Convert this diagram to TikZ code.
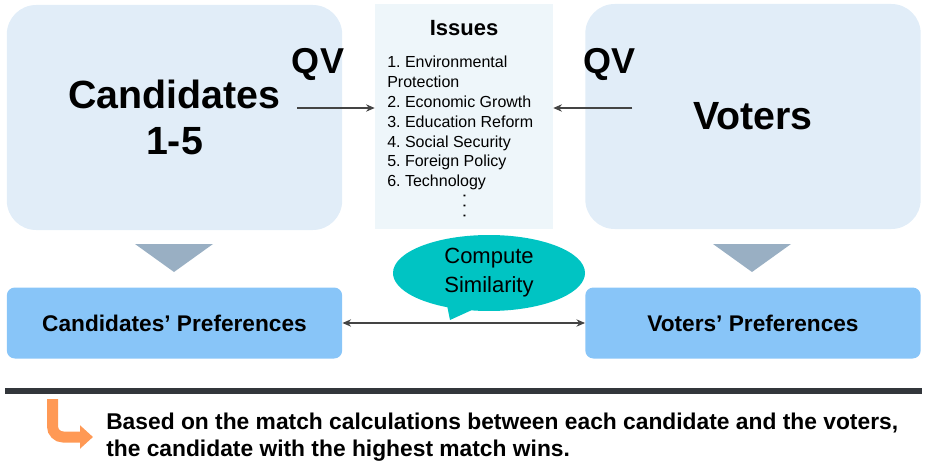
\documentclass[tikz,border=0pt]{standalone}
\usepackage{fontspec}
\setmainfont{Liberation Sans}
\usepackage{tikz}
\usetikzlibrary{arrows.meta,positioning,shapes.callouts,calc}
\usepackage{xcolor}
\definecolor{topblue}{RGB}{225,237,248}
\definecolor{issueblue}{RGB}{238,246,250}
\definecolor{prefblue}{RGB}{136,197,248}
\definecolor{trigray}{RGB}{153,175,195}
\definecolor{bubbleteal}{RGB}{0,196,195}
\definecolor{arrgray}{RGB}{68,68,68}
\definecolor{rulegray}{RGB}{50,54,59}
\definecolor{turnorange}{RGB}{255,153,85}
\frenchspacing

\begin{document}
\begin{tikzpicture}[
    x=0.75pt, y=-0.75pt, >={Stealth[length=6.5pt,width=5.5pt]},
    topbox/.style={fill=topblue, rounded corners=22pt, minimum width=251.5pt, minimum height=168.75pt, align=center, inner sep=0pt},
    bigtext/.style={font=\fontsize{29.5}{35}\selectfont\bfseries},
    issuebox/.style={fill=issueblue, minimum width=133.5pt, minimum height=168.75pt, inner sep=0pt},
    prefbox/.style={fill=prefblue, rounded corners=6pt, minimum width=251.5pt, minimum height=53.25pt, align=center, font=\fontsize{17}{20}\selectfont\bfseries},
    qv/.style={font=\fontsize{27}{30}\selectfont\bfseries},
    arr/.style={->, draw=arrgray, fill=arrgray, line width=0.8pt},
    tri/.style={fill=trigray},
    bubble/.style={ellipse callout, fill=bubbleteal, minimum width=144pt, minimum height=57pt, inner sep=0pt, align=center, font=\fontsize{16.5}{21.75}\selectfont},
    rule/.style={draw=rulegray, line width=4.2pt},
    turn/.style={draw=turnorange, line width=8.25pt, rounded corners=8pt, -{Triangle[length=9.75pt,width=17pt]}}
]
\useasboundingbox (0,0) rectangle (927,467);
% Top row
\node[topbox, bigtext] (cand) at (174.5,117.5) {Candidates\\1-5};
\node[issuebox] (issues) at (464,116.5) {};
\node[topbox, bigtext] (voters) at (753,116.5) {Voters};
% Issue list
\node[font=\fontsize{16.5}{20}\selectfont\bfseries] (ititle) at (464,28) {Issues};
\node[anchor=north west, inner sep=0pt, align=left, font=\fontsize{12}{14.85}\selectfont] (ilist) at (387,56) {1. Environmental\\Protection\\2. Economic Growth\\3. Education Reform\\4. Social Security\\5. Foreign Policy\\6. Technology};
\node[rotate=-90, inner sep=0pt, font=\fontsize{13.5}{15}\selectfont] (idots) at (464.5,206) {. . .};
% QV arrows
\node[qv] (qvl) at (318,64) {QV};
\node[qv] (qvr) at (609,64) {QV};
\coordinate (candout) at (297,108);
\coordinate (votout) at (632,108);
\draw[arr] (candout) -- (candout -| issues.west);
\draw[arr] (votout) -- (votout -| issues.east);
% Down triangles
\fill[tri] (135,244) -- (213,244) -- (174,272) -- cycle;
\fill[tri] (713,244) -- (791,244) -- (752,272) -- cycle;
% Preferences
\node[prefbox] (cpref) at (174.5,323) {Candidates’ Preferences};
\node[prefbox] (vpref) at (753,323) {Voters’ Preferences};
\draw[arr, <->, line width=0.9pt] (cpref) -- (vpref);
\coordinate (tip) at (450,320);
\node[bubble, callout absolute pointer={(tip)}] (sim) at (489,273) {Compute\\Similarity};
% Conclusion
\coordinate (rulel) at (5,391);
\coordinate (ruler) at (922,391);
\draw[rule] (rulel) -- (ruler);
\coordinate (turnb) at (52.5,399);
\coordinate (turne) at (93,437);
\draw[turn] (turnb) |- (turne);
\node[anchor=north west, inner sep=0pt, align=left, font=\fontsize{17.1}{20.25}\selectfont\bfseries] (result) at (106,413) {Based on the match calculations between each candidate and the voters,\\the candidate with the highest match wins.};
\end{tikzpicture}
\end{document}
